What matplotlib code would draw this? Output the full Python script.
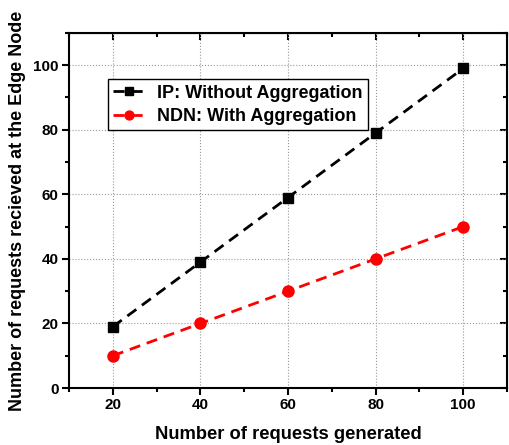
import numpy as np
import matplotlib.pyplot as plt
from matplotlib.ticker import MultipleLocator

plt.rcParams['font.family'] = ['Liberation Sans', 'DejaVu Sans']
plt.rcParams['font.weight'] = 'bold'

requests_generated = [20, 40, 60, 80, 100]
ip_received = [19, 39, 59, 79, 99]
ndn_received = [10, 20, 30, 40, 50]

fig = plt.figure(figsize=(5.09, 4.45), dpi=100)
ax = fig.add_axes([0.1356, 0.128, 0.8604, 0.798])

ax.plot(requests_generated, ip_received, color='black', linestyle=(0, (4, 2.5)),
        linewidth=2, marker='s', markersize=7, label='IP: Without Aggregation')
ax.plot(requests_generated, ndn_received, color='red', linestyle=(0, (4, 2.5)),
        linewidth=2, marker='o', markersize=8, label='NDN: With Aggregation')

ax.set_xlim(10, 110)
ax.set_ylim(0, 110)
ax.xaxis.set_minor_locator(MultipleLocator(10))
ax.yaxis.set_minor_locator(MultipleLocator(10))
ax.set_xticks([20, 40, 60, 80, 100])
ax.set_yticks([0, 20, 40, 60, 80, 100])

ax.grid(True, which='major', color='#999999', linestyle=':', linewidth=0.8)
ax.tick_params(which='both', direction='out', width=1.5, labelsize=11, pad=2.5)
ax.tick_params(which='major', length=5)
ax.tick_params(which='minor', length=3)

# top and right ticks point into the frame
sx = ax.secondary_xaxis('top')
sx.set_xticks([20, 40, 60, 80, 100])
sx.xaxis.set_minor_locator(MultipleLocator(10))
sx.tick_params(which='both', direction='in', width=1.5, labeltop=False)
sx.tick_params(which='major', length=5)
sx.tick_params(which='minor', length=3)
sy = ax.secondary_yaxis('right')
sy.set_yticks([0, 20, 40, 60, 80, 100])
sy.yaxis.set_minor_locator(MultipleLocator(10))
sy.tick_params(which='both', direction='in', width=1.5, labelright=False)
sy.tick_params(which='major', length=5)
sy.tick_params(which='minor', length=3)
for s in ax.spines.values():
    s.set_linewidth(1.5)

ax.set_xlabel('Number of requests generated', fontsize=13.2, fontweight='bold', labelpad=10)
ax.set_ylabel('Number of requests recieved at the Edge Node', fontsize=13,
              fontweight='bold', labelpad=5)

leg = ax.legend(loc='upper left', bbox_to_anchor=(0.089, 0.870), fontsize=13,
                frameon=True, fancybox=False, handlelength=1.7, handletextpad=0.7,
                borderpad=0.3, labelspacing=0.35, borderaxespad=0, markerscale=0.8)
leg.get_frame().set_edgecolor('black')
leg.get_frame().set_linewidth(1.0)
leg.get_frame().set_alpha(1)

fig.savefig('out.png', dpi=100)
